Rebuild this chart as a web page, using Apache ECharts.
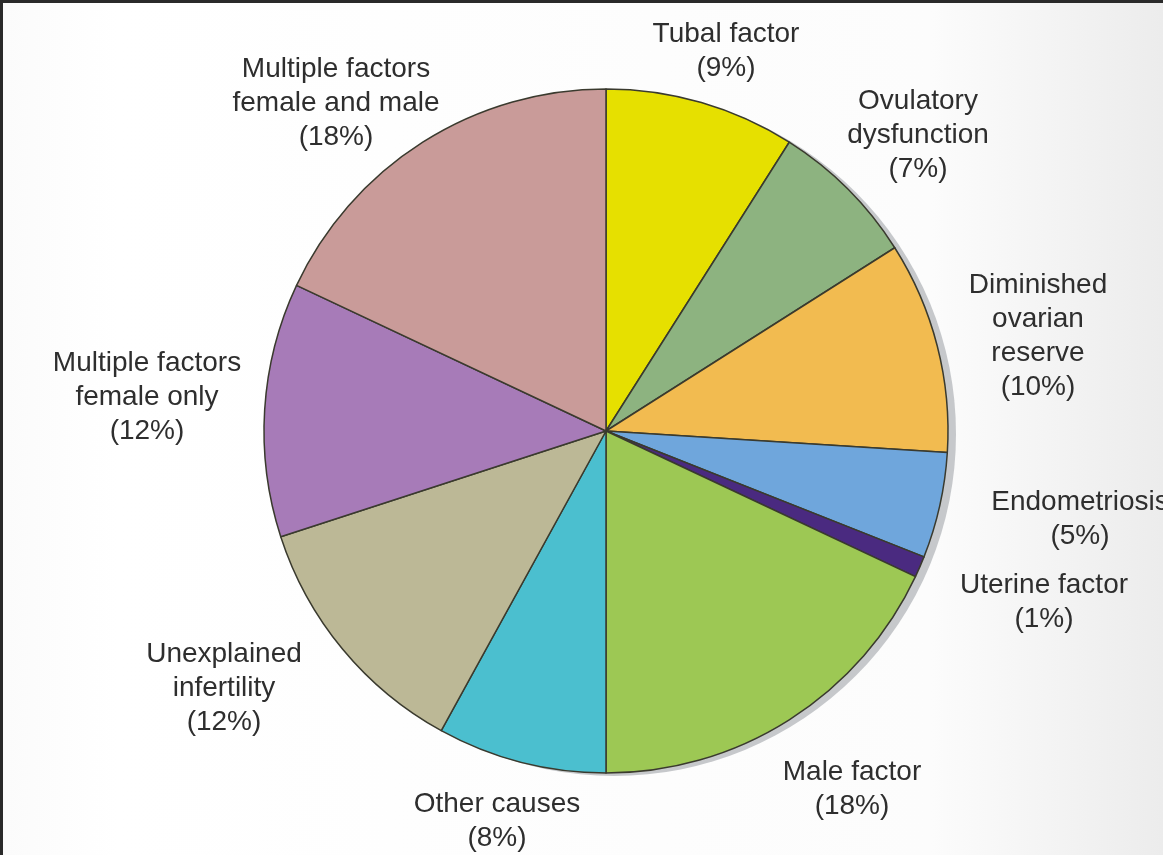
<!DOCTYPE html>
<html>
<head>
<meta charset="utf-8">
<script src="https://cdn.jsdelivr.net/npm/echarts@6/dist/echarts.min.js"></script>
<style>
html,body{margin:0;padding:0;background:#2a2a2a;width:1163px;height:855px;overflow:hidden;}
#c{position:absolute;left:3px;top:3px;width:1160px;height:852px;}
</style>
</head>
<body>
<div id="c"></div>
<script>
const categories = [
  "Tubal factor",
  "Ovulatory\ndysfunction",
  "Diminished\novarian\nreserve",
  "Endometriosis",
  "Uterine factor",
  "Male factor",
  "Other causes",
  "Unexplained\ninfertility",
  "Multiple factors\nfemale only",
  "Multiple factors\nfemale and male"
];
const values = [9, 7, 10, 5, 1, 18, 8, 12, 12, 18];
const colors = ["#e6e000", "#8db380", "#f2bb50", "#6fa6dc", "#4a2a80", "#9dc854", "#4bbfcf", "#bcb896", "#a77bb8", "#c99b99"];
// label centres (page pixels)
const labelXY = [[726, 51], [918, 135], [1038, 336], [1080, 519], [1044, 602], [852, 789], [497, 821], [224, 688], [147, 397], [336, 103]];

const chart = echarts.init(document.getElementById('c'), null, {renderer: 'canvas'});
const cx = 603, cy = 428, R = 342;
chart.setOption({
  backgroundColor: {
    type: 'linear', x: 0, y: 0, x2: 1, y2: 0,
    colorStops: [{offset: 0, color: '#fbfbfb'}, {offset: 0.1, color: '#ffffff'}, {offset: 0.8, color: '#fcfcfc'}, {offset: 1, color: '#ececec'}]
  },
  animation: false,
  series: [
    {
      type: 'pie', silent: true, z: 1,
      center: [cx + 8, cy + 3], radius: R,
      label: {show: false}, labelLine: {show: false},
      data: [{value: 1, itemStyle: {color: '#c6c8cb'}}]
    },
    {
      type: 'pie', z: 2,
      center: [cx, cy], radius: R,
      startAngle: 90, clockwise: true,
      itemStyle: {borderColor: '#3a3a2e', borderWidth: 1.5},
      label: {
        show: true, position: 'outside', overflow: 'none', width: 400,
        formatter: p => p.name + '\n(' + p.value + '%)',
        fontFamily: '"Liberation Sans", Arial, sans-serif',
        fontSize: 28, lineHeight: 34, color: '#2e2e2e', align: 'center'
      },
      labelLine: {show: false},
      labelLayout: function (p) {
        const xy = labelXY[p.dataIndex];
        return {x: xy[0] - 3, y: xy[1] - 3, align: 'center', verticalAlign: 'middle', hideOverlap: false, moveOverlap: false};
      },
      data: categories.map((n, i) => ({name: n, value: values[i], itemStyle: {color: colors[i]}}))
    }
  ]
});
</script>
</body>
</html>
